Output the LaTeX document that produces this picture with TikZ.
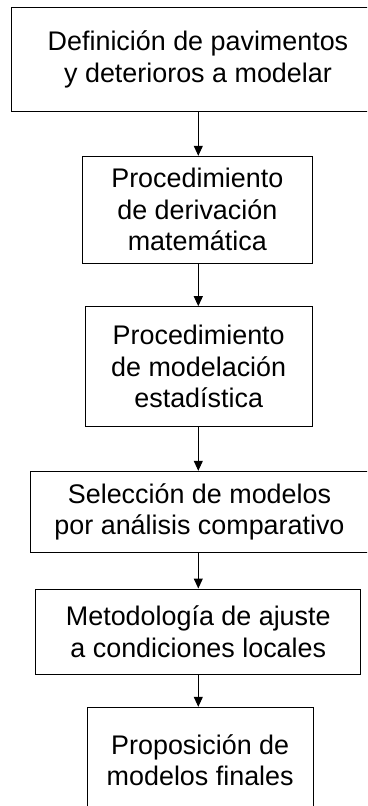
\documentclass[tikz,border=0pt]{standalone}
\usepackage{fontspec}
\setmainfont{Liberation Sans}
\usetikzlibrary{arrows.meta}
\tikzset{
  flowbox/.style={draw=black, line width=1pt, inner sep=0pt, align=center,
    font=\fontsize{26.9}{31.5}\selectfont},
  arr/.style={draw=black, line width=1pt, -{Triangle[width=9pt,length=10pt]}}
}
\begin{document}
\begin{tikzpicture}[x=1pt,y=-1pt]
\useasboundingbox (0,0) rectangle (367,806);
\clip (0,0) rectangle (367,806);
\fill[white] (0,0) rectangle (367,806);
\coordinate (ax) at (198.3,0);
\node[flowbox, minimum width=373pt, minimum height=103.7pt] (b1) at (198,59.2)
  {Definición de pavimentos\\y deterioros a modelar};
\node[flowbox, minimum width=230pt, minimum height=107pt] (b2) at (197.3,209.8)
  {Procedimiento\\de derivación\\matemática};
\node[flowbox, minimum width=227.3pt, minimum height=120pt] (b3) at (198.7,366.7)
  {Procedimiento\\de modelación\\estadística};
\node[flowbox, minimum width=337.6pt, minimum height=81pt] (b4) at (199.5,511.8)
  {Selección de modelos\\por análisis comparativo};
\node[flowbox, minimum width=325.3pt, minimum height=85pt] (b5) at (198.3,631.5)
  {Metodología de ajuste\\a condiciones locales};
\node[flowbox, minimum width=225.7pt, minimum height=105.4pt] (b6) at (200.2,760)
  {Proposición de\\modelos finales};
\draw[arr] (b1.south -| ax) -- (b2.north -| ax);
\draw[arr] (b2.south -| ax) -- (b3.north -| ax);
\draw[arr] (b3.south -| ax) -- (b4.north -| ax);
\draw[arr] (b4.south -| ax) -- (b5.north -| ax);
\draw[arr] (b5.south -| ax) -- (b6.north -| ax);
\end{tikzpicture}
\end{document}
